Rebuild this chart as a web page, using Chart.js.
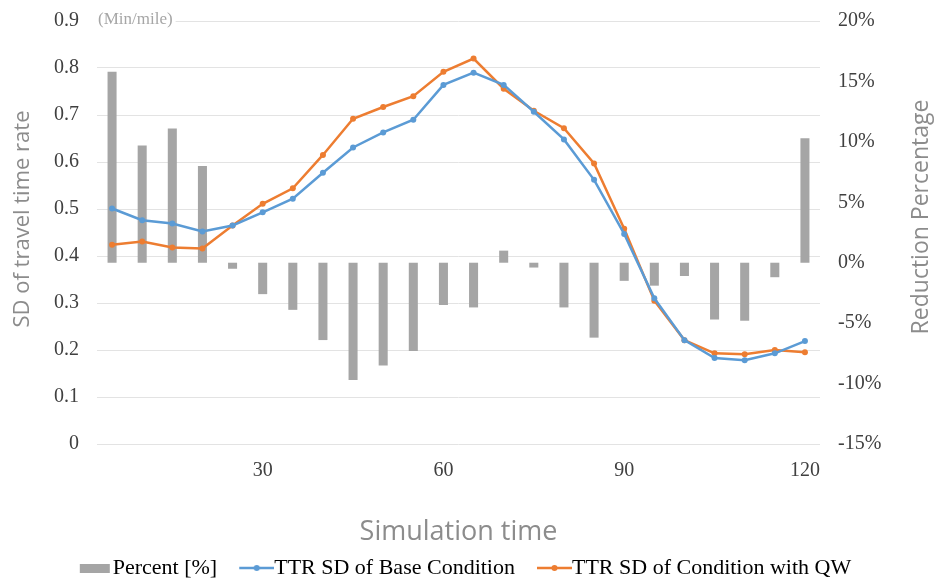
<!DOCTYPE html>
<html>
<head>
<meta charset="utf-8">
<script src="https://cdn.jsdelivr.net/npm/chart.js@4.4.0/dist/chart.umd.min.js"></script>
<style>
    html, body { margin: 0; padding: 0; background: #fff; }
    #wrap { width: 936px; height: 584px; }
</style>
</head>
<body>
<div id="wrap"><canvas id="chart"></canvas></div>
<script>
// simulation time (min)
const simTimes = [5, 10, 15, 20, 25, 30, 35, 40, 45, 50, 55, 60,
                  65, 70, 75, 80, 85, 90, 95, 100, 105, 110, 115, 120];
// reduction percentage (%)
const percentReduction = [15.8, 9.7, 11.1, 8.0, -0.5, -2.6, -3.9, -6.4, -9.7, -8.5, -7.3, -3.5,
                          -3.7, 1.0, -0.4, -3.7, -6.2, -1.5, -1.9, -1.1, -4.7, -4.8, -1.2, 10.3];
// TTR SD (min/mile)
const baseSD = [0.501, 0.476, 0.469, 0.452, 0.465, 0.493, 0.522, 0.577, 0.631, 0.663, 0.690, 0.764,
                0.790, 0.764, 0.707, 0.648, 0.562, 0.447, 0.310, 0.221, 0.183, 0.178, 0.193, 0.219];
const qwSD = [0.424, 0.431, 0.418, 0.416, 0.465, 0.511, 0.544, 0.615, 0.692, 0.717, 0.740, 0.792,
              0.820, 0.756, 0.709, 0.672, 0.597, 0.458, 0.305, 0.221, 0.193, 0.191, 0.200, 0.195];
const seriesNames = ['Percent [%]', 'TTR SD of Base Condition', 'TTR SD of Condition with QW'];

const BAR_COLOR = '#a5a5a5';
const BLUE = '#5b9bd5';
const ORANGE = '#ed7d31';
const TITLE_GREY = '#8c8c8c';
const SERIF = '"Liberation Serif", "Times New Roman", serif';
const SANS = '"Open Sans", "Noto Sans", sans-serif';

// legend swatches: the visible part sits at the right so the text follows it closely
const SW = 43;      // pointStyleWidth
const GAP = 11;     // half font size, Chart.js gap between box and text
const MARK = 35;    // visible swatch width
function makeSwatch(kind, color) {
    const c = document.createElement('canvas');
    c.width = SW + GAP * 2;
    c.height = 12;
    const g = c.getContext('2d');
    const x0 = c.width - MARK;
    if (kind === 'bar') {
        g.fillStyle = color;
        g.fillRect(x0 + 2, 2, 30, 9);
    } else {
        g.strokeStyle = color;
        g.lineWidth = 2.5;
        g.beginPath();
        g.moveTo(x0, 6);
        g.lineTo(x0 + MARK, 6);
        g.stroke();
        g.fillStyle = color;
        g.beginPath();
        g.arc(x0 + MARK / 2, 6, 3, 0, Math.PI * 2);
        g.fill();
    }
    return c;
}

const swatches = [
    makeSwatch('bar', BAR_COLOR),
    makeSwatch('line', BLUE),
    makeSwatch('line', ORANGE)
];

function drawRotated(ctx, text, x, y, size) {
    ctx.save();
    ctx.translate(x, y);
    ctx.rotate(-Math.PI / 2);
    ctx.font = size + 'px ' + SANS;
    ctx.fillStyle = TITLE_GREY;
    ctx.textAlign = 'center';
    ctx.textBaseline = 'middle';
    ctx.fillText(text, 0, 0);
    ctx.restore();
}

const extraText = {
    id: 'extraText',
    afterLayout(chart) {
        // nudge the legend a bit left, like the reference
        if (chart.legend) {
            chart.legend.left -= 13;
            chart.legend.right -= 13;
        }
    },
    beforeDatasetsDraw(chart) {
        const { ctx, chartArea } = chart;
        ctx.save();
        ctx.font = '17px ' + SERIF;
        const text = '(Min/mile)';
        const w = ctx.measureText(text).width;
        ctx.fillStyle = '#fff';
        ctx.fillRect(chartArea.left, chartArea.top - 8, w + 4, 16);
        ctx.fillStyle = '#a6a6a6';
        ctx.textBaseline = 'middle';
        ctx.fillText(text, chartArea.left + 1, chartArea.top - 1);
        ctx.restore();
    },
    afterDraw(chart) {
        drawRotated(chart.ctx, 'SD of travel time rate', 23, 219, 22);
        drawRotated(chart.ctx, 'Reduction Percentage', 921, 217, 23);
    }
};

// fixed axis box so the plot area matches the reference
function fitVertical(width) {
    return (scale) => {
        scale.width = width;
        scale.paddingTop = 21;
        scale.paddingBottom = 0;
    };
}

new Chart(document.getElementById('chart'), {
    data: {
        labels: simTimes,
        datasets: [{
            type: 'bar',
            label: seriesNames[0],
            data: percentReduction,
            yAxisID: 'y1',
            backgroundColor: BAR_COLOR,
            borderWidth: 0,
            barPercentage: 0.3,
            categoryPercentage: 1.0,
            order: 2
        }, {
            type: 'line',
            label: seriesNames[1],
            data: baseSD,
            yAxisID: 'y',
            borderColor: BLUE,
            backgroundColor: BLUE,
            borderWidth: 2.5,
            pointRadius: 3,
            pointBorderWidth: 0,
            tension: 0,
            order: 1
        }, {
            type: 'line',
            label: seriesNames[2],
            data: qwSD,
            yAxisID: 'y',
            borderColor: ORANGE,
            backgroundColor: ORANGE,
            borderWidth: 2.5,
            pointRadius: 3,
            pointBorderWidth: 0,
            tension: 0,
            order: 1
        }]
    },
    options: {
        responsive: true,
        maintainAspectRatio: false,
        animation: false,
        layout: { padding: { top: 0, left: 0, right: 0, bottom: -5 } },
        plugins: {
            tooltip: { enabled: false },
            legend: {
                position: 'bottom',
                labels: {
                    usePointStyle: true,
                    pointStyleWidth: SW,
                    padding: 3,
                    color: '#404040',
                    font: { family: SERIF, size: 22 },
                    generateLabels: (chart) => seriesNames.map((name, i) => ({
                        text: name,
                        pointStyle: swatches[i],
                        fillStyle: 'transparent',
                        strokeStyle: 'transparent',
                        lineWidth: 0,
                        hidden: !chart.isDatasetVisible(i),
                        datasetIndex: i
                    }))
                }
            }
        },
        scales: {
            x: {
                type: 'category',
                offset: true,
                grid: { display: false, drawTicks: false },
                border: { display: false },
                ticks: {
                    autoSkip: false,
                    maxRotation: 0,
                    padding: 15,
                    color: '#404040',
                    font: { family: SERIF, size: 20 },
                    callback: function(value) {
                        const t = this.getLabelForValue(value);
                        return t % 30 === 0 ? String(t) : '';
                    }
                },
                title: {
                    display: true,
                    text: 'Simulation time',
                    color: TITLE_GREY,
                    font: { family: SANS, size: 27 },
                    padding: { top: 0, bottom: 5 }
                },
                afterFit: (scale) => { scale.height = 110; }
            },
            y: {
                position: 'left',
                min: 0,
                max: 0.9,
                grid: { color: '#e3e3e3', lineWidth: 1, drawTicks: false },
                border: { display: false },
                ticks: {
                    stepSize: 0.1,
                    padding: 18,
                    color: '#404040',
                    font: { family: SERIF, size: 20 },
                    callback: (v) => v === 0 ? '0' : v.toFixed(1)
                },
                afterFit: fitVertical(97)
            },
            y1: {
                position: 'right',
                min: -15,
                max: 20,
                grid: { display: false, drawTicks: false },
                border: { display: false },
                ticks: {
                    stepSize: 5,
                    padding: 18,
                    color: '#404040',
                    font: { family: SERIF, size: 20 },
                    callback: (v) => v + '%'
                },
                afterFit: fitVertical(116)
            }
        }
    },
    plugins: [extraText]
});
</script>
</body>
</html>
